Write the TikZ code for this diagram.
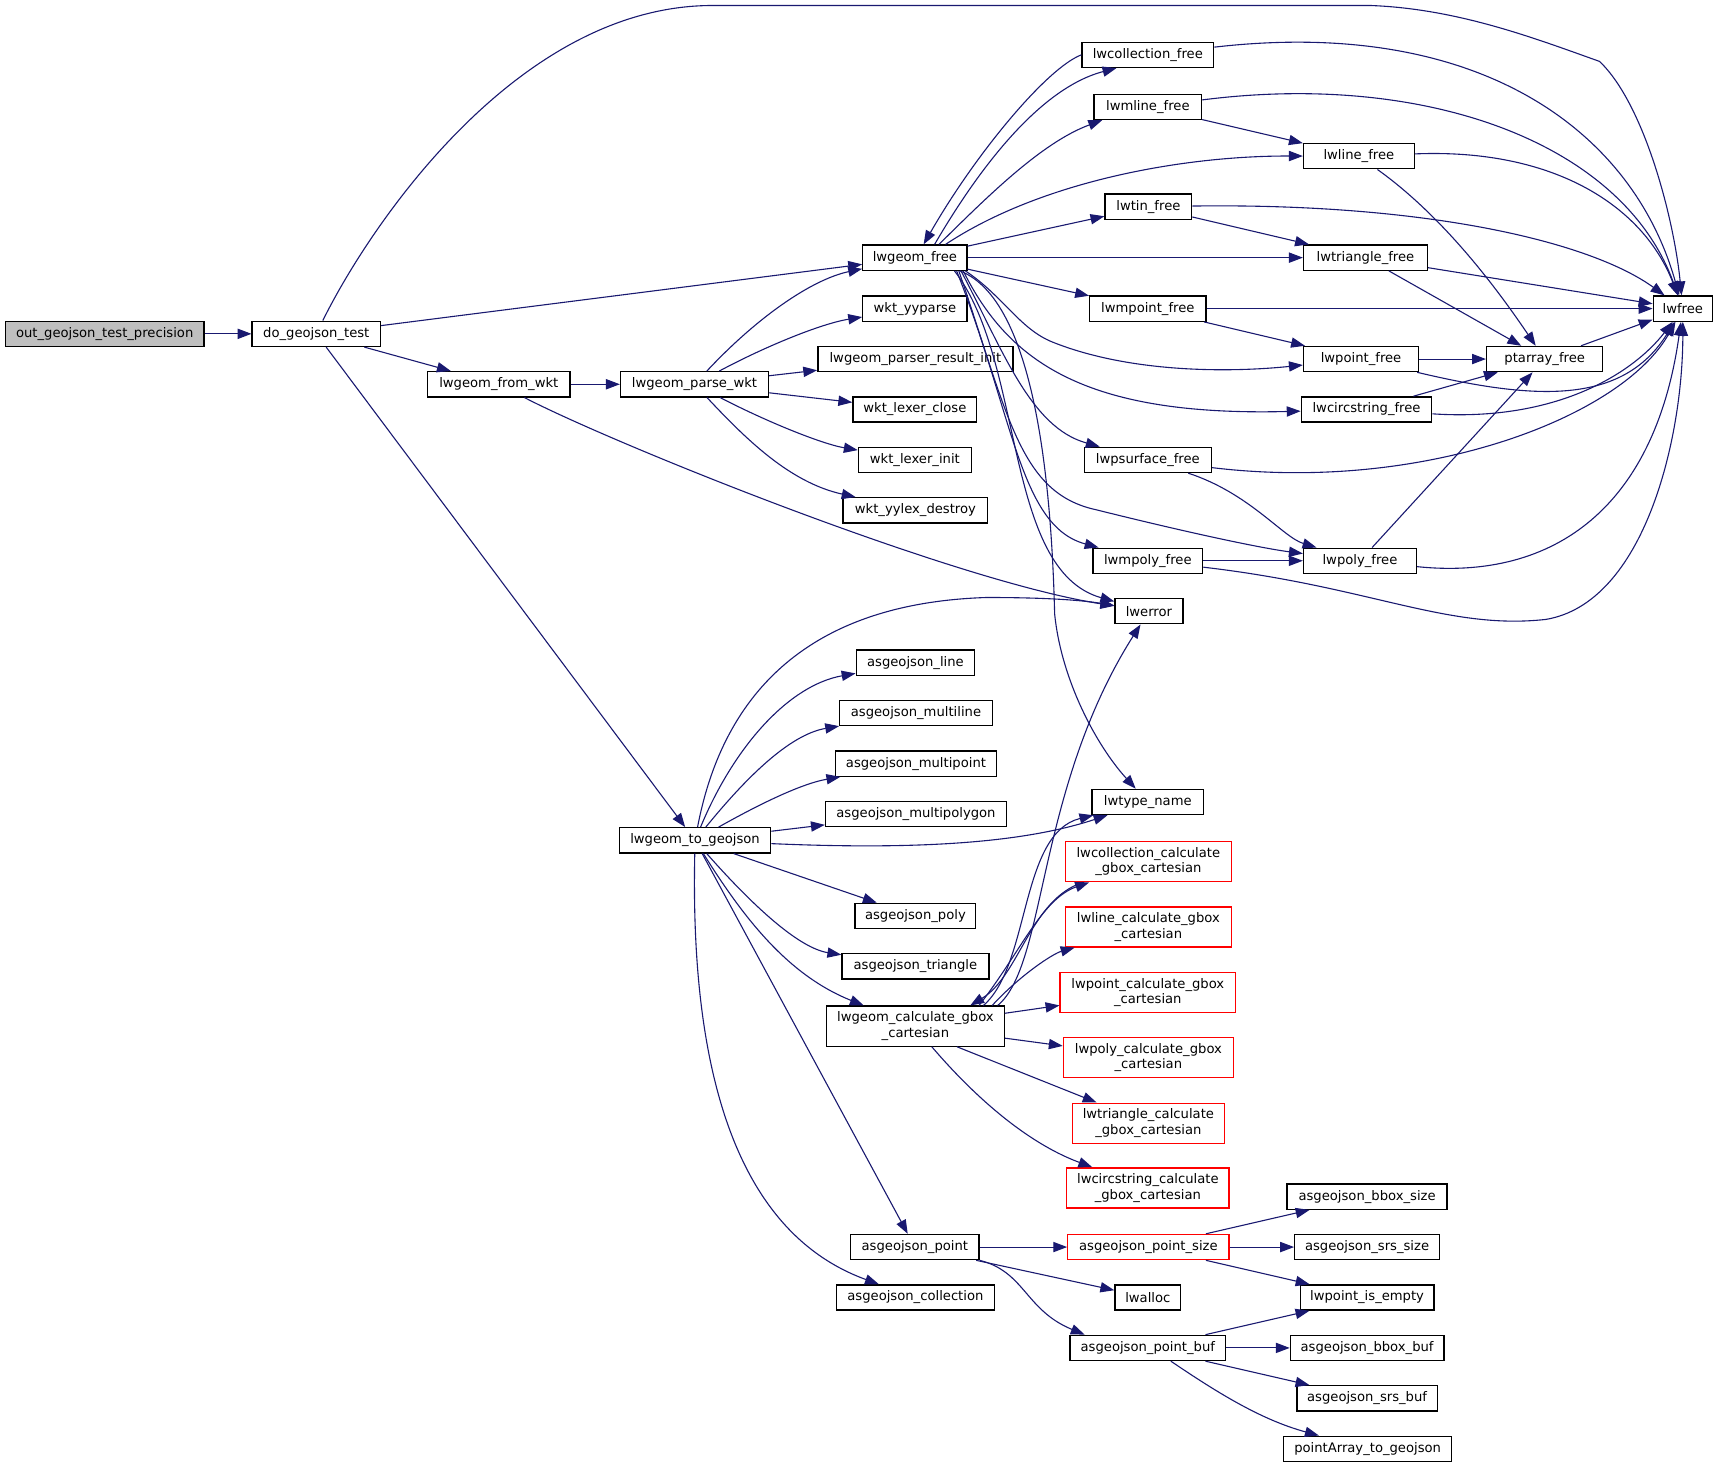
\documentclass[tikz,border=0pt]{standalone}
\usepackage{fontspec}
\setmainfont{DejaVu Sans}
\usetikzlibrary{arrows.meta,calc}
\definecolor{edgec}{HTML}{191970}
\definecolor{grayfill}{HTML}{BFBFBF}
\newcommand\nb[6][]{\node[box,#1,minimum width=#5*0.75pt] (#2) at (#3,#4) {#6};}
\begin{document}
\begin{tikzpicture}[x=0.75pt,y=-0.75pt,
  box/.style={draw=black,line width=0.9pt,fill=white,inner sep=0pt,minimum height=23*0.75pt,font=\fontsize{9pt}{10.6pt}\selectfont,align=center},
  two/.style={minimum height=36.5*0.75pt},
  redb/.style={draw=red},
  ed/.style={draw=edgec,line width=0.75pt,-{Triangle[length=9.5pt,width=7pt]}}]
\useasboundingbox[fill=white] (0,0) rectangle (1568,1340);
% nodes
\nb[fill=grayfill]{n0}{95.5}{304.5}{181}{out\_geojson\_test\_precision}
\nb{dgt}{288.5}{304.5}{117}{do\_geojson\_test}
\nb{lgf}{834.5}{235}{95}{lwgeom\_free}
\nb{lgfw}{455}{350.5}{130}{lwgeom\_from\_wkt}
\nb{lgpw}{633.5}{350.5}{135}{lwgeom\_parse\_wkt}
\nb{yyparse}{834.5}{281.5}{95}{wkt\_yyparse}
\nb{pri}{835}{327.5}{178}{lwgeom\_parser\_result\_init}
\nb{lclose}{834.5}{373.5}{113}{wkt\_lexer\_close}
\nb{linit}{834.5}{419.5}{103}{wkt\_lexer\_init}
\nb{ydestroy}{835}{465.5}{132}{wkt\_yylex\_destroy}
\nb{lcoll}{1047}{50}{120}{lwcollection\_free}
\nb{lmline}{1047}{97.5}{98}{lwmline\_free}
\nb{lline}{1239.5}{142.5}{101}{lwline\_free}
\nb{ltin}{1047.5}{188.5}{79}{lwtin\_free}
\nb{ltri}{1245.5}{235}{113}{lwtriangle\_free}
\nb{lmpoint}{1047}{281.5}{106}{lwmpoint\_free}
\nb{lpoint}{1241.5}{327.5}{105}{lwpoint\_free}
\nb{ptarr}{1409}{327.5}{106}{ptarray\_free}
\nb{lwfree}{1535}{281.5}{54}{lwfree}
\nb{lcirc}{1246.5}{373.5}{119}{lwcircstring\_free}
\nb{lpsurf}{1047}{419.5}{116}{lwpsurface\_free}
\nb{lpoly}{1240.5}{511.5}{103}{lwpoly\_free}
\nb{lmpoly}{1047}{511.5}{100}{lwmpoly\_free}
\nb{lwerror}{1048}{557.5}{62}{lwerror}
\nb{agline}{835}{604.5}{108}{asgeojson\_line}
\nb{agmline}{835.5}{650.5}{139}{asgeojson\_multiline}
\nb{agmpoint}{835.5}{696.5}{147}{asgeojson\_multipoint}
\nb{agmpoly}{835.5}{742.5}{165}{asgeojson\_multipolygon}
\nb{ltype}{1047}{731.5}{102}{lwtype\_name}
\nb{lg2g}{634}{766.5}{138}{lwgeom\_to\_geojson}
\nb[two,redb]{lcollcalc}{1047.5}{786}{151}{lwcollection\_calculate\\\_gbox\_cartesian}
\nb[two,redb]{llinecalc}{1047.5}{845.5}{151}{lwline\_calculate\_gbox\\\_cartesian}
\nb{agpoly}{835}{835.5}{110}{asgeojson\_poly}
\nb{agtri}{835}{881.5}{134}{asgeojson\_triangle}
\nb[two,redb]{lpointcalc}{1047}{905.5}{160}{lwpoint\_calculate\_gbox\\\_cartesian}
\nb[two]{lgcalc}{835}{936}{162}{lwgeom\_calculate\_gbox\\\_cartesian}
\nb[two,redb]{lpolycalc}{1047.5}{964.5}{155}{lwpoly\_calculate\_gbox\\\_cartesian}
\nb[two,redb]{ltricalc}{1047.5}{1024.5}{139}{lwtriangle\_calculate\\\_gbox\_cartesian}
\nb[two,redb]{lcirccalc}{1047}{1083.5}{148}{lwcircstring\_calculate\\\_gbox\_cartesian}
\nb{agbboxsize}{1247}{1091.5}{146}{asgeojson\_bbox\_size}
\nb{agpoint}{834.5}{1137.5}{117}{asgeojson\_point}
\nb[redb]{agpointsize}{1047.5}{1137.5}{147}{asgeojson\_point\_size}
\nb{agsrssize}{1247}{1137.5}{132}{asgeojson\_srs\_size}
\nb{lwalloc}{1047}{1183.5}{60}{lwalloc}
\nb{lpie}{1247}{1183.5}{122}{lwpoint\_is\_empty}
\nb{agcoll}{835}{1183.5}{144}{asgeojson\_collection}
\nb{agpbuf}{1047}{1229.5}{142}{asgeojson\_point\_buf}
\nb{agbboxbuf}{1247}{1229.5}{140}{asgeojson\_bbox\_buf}
\nb{agsrsbuf}{1247}{1275.5}{128}{asgeojson\_srs\_buf}
\nb{pa2g}{1247.5}{1321.5}{153}{pointArray\_to\_geojson}
% edges
\draw[ed] (n0) -- (dgt);
\draw[ed] (dgt) .. controls (335,210) and (470,5) .. (650,5) -- (1250,5) .. controls (1330,8) and (1400,35) .. (1459,56) .. controls (1500,95) and (1527,200) .. (lwfree);
\draw[ed] (dgt) -- (lgf);
\draw[ed] (dgt) -- (lgfw);
\draw[ed] (dgt) -- (lg2g);
\draw[ed] (lgfw) -- (lgpw);
\draw[ed] (lgfw) .. controls (560,405) and (870,530) .. (lwerror);
\draw[ed] (lgpw) .. controls (690,290) and (740,255) .. (lgf);
\draw[ed] (lgpw) .. controls (700,315) and (750,295) .. (yyparse);
\draw[ed] (lgpw) -- (pri);
\draw[ed] (lgpw) -- (lclose);
\draw[ed] (lgpw) .. controls (700,385) and (750,405) .. (linit);
\draw[ed] (lgpw) .. controls (680,400) and (720,440) .. (ydestroy);
% lwgeom_free and children
\draw[ed] ($(lgf.north)+(18,0)$) .. controls (895,150) and (950,80) .. ($(lcoll.south west)+(32,0)$);
\draw[ed] (lcoll.west) .. controls (955,62) and (890,140) .. ($(lgf.north)+(8,0)$);
\draw[ed] (lcoll) .. controls (1350,15) and (1490,120) .. (lwfree);
\draw[ed] ($(lgf.north)+(22,0)$) .. controls (900,180) and (950,130) .. ($(lmline.south west)+(8,0)$);
\draw[ed] (lmline) .. controls (1300,65) and (1480,130) .. (lwfree);
\draw[ed] (lmline) -- (lline);
\draw[ed] ($(lgf.north)+(28,0)$) .. controls (950,165) and (1080,142) .. (lline);
\draw[ed] (lline) .. controls (1420,135) and (1500,190) .. (lwfree);
\draw[ed] (lline) .. controls (1320,200) and (1370,270) .. (ptarr);
\draw[ed] (lgf) -- (ltin);
\draw[ed] (ltin) .. controls (1300,185) and (1450,220) .. (lwfree);
\draw[ed] (ltin) -- (ltri);
\draw[ed] (lgf) -- (ltri);
\draw[ed] (ltri) -- (lwfree);
\draw[ed] (ltri) -- (ptarr);
\draw[ed] (lgf) -- (lmpoint);
\draw[ed] (lmpoint) -- (lwfree);
\draw[ed] (lmpoint) -- (lpoint);
\draw[ed] ($(lgf.south east)+(-2,0)$) .. controls (915,270) and (930,300) .. (960,312) .. controls (1030,340) and (1120,340) .. (lpoint);
\draw[ed] (lpoint) -- (ptarr);
\draw[ed] (lpoint) .. controls (1400,365) and (1480,370) .. (lwfree);
\draw[ed] (ptarr) -- (lwfree);
\draw[ed] ($(lgf.south east)+(-4,0)$) .. controls (920,330) and (990,380) .. (lcirc);
\draw[ed] (lcirc) -- (ptarr);
\draw[ed] (lcirc) .. controls (1420,385) and (1490,340) .. (lwfree);
\draw[ed] ($(lgf.south east)+(-6,0)$) .. controls (915,320) and (940,390) .. (lpsurf);
\draw[ed] (lpsurf) .. controls (1300,450) and (1480,380) .. (lwfree);
\draw[ed] (lpsurf) .. controls (1140,450) and (1170,490) .. (lpoly);
\draw[ed] ($(lgf.south east)+(-8,0)$) .. controls (920,380) and (930,450) .. (1000,465) .. controls (1080,485) and (1150,500) .. (lpoly);
\draw[ed] (lpoly) -- (ptarr);
\draw[ed] (lpoly) .. controls (1420,530) and (1510,460) .. (lwfree);
\draw[ed] ($(lgf.south east)+(-10,0)$) .. controls (925,380) and (930,480) .. (lmpoly);
\draw[ed] (lmpoly) -- (lpoly);
\draw[ed] (lmpoly) .. controls (1250,535) and (1320,575) .. (1410,565) .. controls (1500,550) and (1535,400) .. (lwfree);
\draw[ed] ($(lgf.south east)+(-12,0)$) .. controls (935,330) and (915,520) .. (lwerror);
\draw[ed] ($(lgf.south east)+(-7,0)$) .. controls (935,270) and (958,400) .. (962,560) .. controls (968,620) and (1000,680) .. (ltype);
% lwgeom_to_geojson
\draw[ed] (lg2g) .. controls (660,630) and (740,550) .. (900,545) .. controls (960,545) and (990,548) .. (lwerror);
\draw[ed] (lg2g) .. controls (670,680) and (720,625) .. (agline);
\draw[ed] (lg2g) .. controls (680,710) and (720,670) .. (agmline);
\draw[ed] (lg2g) .. controls (690,735) and (730,715) .. (agmpoint);
\draw[ed] (lg2g) -- (agmpoly);
\draw[ed] (lg2g) .. controls (830,775) and (930,770) .. (ltype);
\draw[ed] (lg2g) -- (agpoly);
\draw[ed] (lg2g) .. controls (690,830) and (730,865) .. (agtri);
\draw[ed] (lg2g) .. controls (680,840) and (720,890) .. (lgcalc);
\draw[ed] (lg2g) -- (agpoint);
\draw[ed] (lg2g) .. controls (630,950) and (660,1120) .. (agcoll);
% lwgeom_calculate_gbox_cartesian
\draw[ed] ($(lgcalc.north)+(75,0)$) .. controls (955,880) and (945,720) .. (lwerror);
\draw[ed] ($(lgcalc.north)+(62,0)$) .. controls (940,880) and (930,760) .. (ltype);
\draw[ed] (lcollcalc) .. controls (940,820) and (930,890) .. ($(lgcalc.north)+(50,0)$);
\draw[ed] ($(lgcalc.north)+(58,0)$) .. controls (930,870) and (950,820) .. (lcollcalc);
\draw[ed] ($(lgcalc.north)+(70,0)$) .. controls (930,890) and (960,870) .. (llinecalc);
\draw[ed] (lgcalc) -- (lpointcalc);
\draw[ed] (lgcalc) -- (lpolycalc);
\draw[ed] ($(lgcalc.south)+(38,0)$) -- (ltricalc);
\draw[ed] ($(lgcalc.south)+(15,0)$) .. controls (880,990) and (930,1040) .. (lcirccalc);
% asgeojson_point
\draw[ed] (agpoint) -- (agpointsize);
\draw[ed] (agpoint) -- (lwalloc);
\draw[ed] (agpoint.south east) .. controls (935,1160) and (935,1195) .. ($(agpbuf.north west)+(14,0)$);
\draw[ed] (agpointsize) -- (agbboxsize);
\draw[ed] (agpointsize) -- (agsrssize);
\draw[ed] (agpointsize) -- (lpie);
\draw[ed] (agpbuf) -- (lpie);
\draw[ed] (agpbuf) -- (agbboxbuf);
\draw[ed] (agpbuf) -- (agsrsbuf);
\draw[ed] ($(agpbuf.south)+(21,0)$) .. controls (1110,1270) and (1150,1295) .. (pa2g);
\end{tikzpicture}
\end{document}
